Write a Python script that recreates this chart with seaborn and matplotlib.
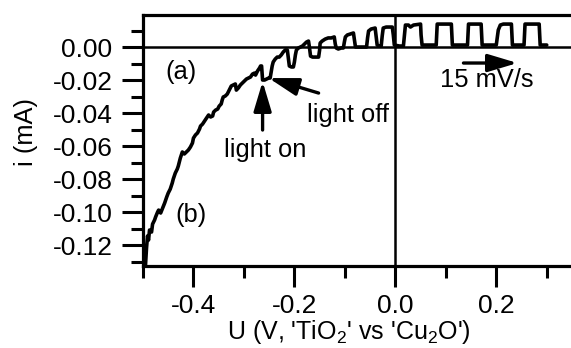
import matplotlib
matplotlib.use("Agg")
import matplotlib.pyplot as plt
import numpy as np
import pandas as pd
import seaborn as sns
from matplotlib.ticker import FixedLocator, FixedFormatter

# ---- data ----
potential = [
    -0.495, -0.493, -0.491, -0.489, -0.487, -0.483, -0.481, -0.477, -0.475, -0.471,
    -0.469, -0.465, -0.461, -0.457, -0.453, -0.450, -0.446, -0.442, -0.440, -0.436,
    -0.432, -0.430, -0.426, -0.422, -0.418, -0.414, -0.410, -0.406, -0.402, -0.400,
    -0.396, -0.392, -0.388, -0.386, -0.382, -0.378, -0.374, -0.370, -0.366, -0.362,
    -0.360, -0.356, -0.352, -0.349, -0.345, -0.343, -0.341, -0.337, -0.333, -0.329,
    -0.325, -0.321, -0.317, -0.315, -0.311, -0.307, -0.303, -0.299, -0.295, -0.291,
    -0.287, -0.283, -0.279, -0.277, -0.273, -0.269, -0.267, -0.265, -0.263, -0.259,
    -0.255, -0.251, -0.248, -0.246, -0.244, -0.242, -0.238, -0.234, -0.230, -0.226,
    -0.222, -0.218, -0.214, -0.212, -0.210, -0.206, -0.202, -0.200, -0.198, -0.196,
    -0.192, -0.188, -0.184, -0.180, -0.176, -0.172, -0.170, -0.168, -0.164, -0.158,
    -0.152, -0.150, -0.149, -0.145, -0.139, -0.133, -0.127, -0.121, -0.119, -0.117,
    -0.113, -0.107, -0.103, -0.101, -0.099, -0.095, -0.089, -0.083, -0.081, -0.079,
    -0.073, -0.065, -0.057, -0.055, -0.053, -0.048, -0.040, -0.038, -0.036, -0.032,
    -0.028, -0.026, -0.024, -0.018, -0.010, -0.006, -0.004, -0.002, 0.008, 0.016,
    0.018, 0.020, 0.026, 0.030, 0.036, 0.050, 0.051, 0.053, 0.081, 0.083,
    0.111, 0.113, 0.143, 0.145, 0.170, 0.172, 0.200, 0.204, 0.208, 0.214,
    0.230, 0.232, 0.255, 0.257, 0.285, 0.287, 0.300,
]
current = [
    -0.1321, -0.1218, -0.1145, -0.1170, -0.1109, -0.1121, -0.1073, -0.1048, -0.1030, -0.1000,
    -0.0988, -0.1006, -0.0976, -0.0945, -0.0909, -0.0885, -0.0861, -0.0824, -0.0800, -0.0764,
    -0.0739, -0.0721, -0.0673, -0.0636, -0.0648, -0.0636, -0.0624, -0.0606, -0.0582, -0.0552,
    -0.0533, -0.0521, -0.0497, -0.0479, -0.0467, -0.0448, -0.0430, -0.0412, -0.0424, -0.0418,
    -0.0394, -0.0382, -0.0376, -0.0358, -0.0345, -0.0321, -0.0303, -0.0297, -0.0285, -0.0261,
    -0.0236, -0.0230, -0.0224, -0.0261, -0.0248, -0.0230, -0.0218, -0.0206, -0.0194, -0.0188,
    -0.0182, -0.0164, -0.0158, -0.0170, -0.0145, -0.0127, -0.0115, -0.0115, -0.0200, -0.0200,
    -0.0194, -0.0188, -0.0188, -0.0152, -0.0115, -0.0091, -0.0073, -0.0061, -0.0061, -0.0048,
    -0.0030, -0.0018, -0.0018, -0.0067, -0.0115, -0.0121, -0.0121, -0.0091, -0.0048, -0.0018,
    -0.0006, 0.0000, 0.0006, 0.0018, 0.0030, 0.0036, -0.0006, -0.0055, -0.0061, -0.0061,
    -0.0061, -0.0018, 0.0024, 0.0036, 0.0048, 0.0055, 0.0055, 0.0061, 0.0018, -0.0006,
    -0.0012, -0.0006, -0.0006, 0.0030, 0.0061, 0.0073, 0.0079, 0.0085, 0.0042, 0.0000,
    0.0000, 0.0000, 0.0000, 0.0055, 0.0097, 0.0109, 0.0115, 0.0061, 0.0012, 0.0006,
    0.0006, 0.0067, 0.0115, 0.0121, 0.0121, 0.0121, 0.0073, 0.0012, 0.0006, 0.0006,
    0.0073, 0.0133, 0.0133, 0.0121, 0.0133, 0.0139, 0.0073, 0.0012, 0.0012, 0.0139,
    0.0139, 0.0012, 0.0012, 0.0139, 0.0139, 0.0012, 0.0012, 0.0103, 0.0133, 0.0139,
    0.0139, 0.0012, 0.0012, 0.0139, 0.0139, 0.0012, 0.0012,
]

x_ticks = [-0.4, -0.2, 0.0, 0.2]
x_tick_labels = ["-0.4", "-0.2", "0.0", "0.2"]
x_minor = [-0.5, -0.3, -0.1, 0.1, 0.3]
y_ticks = [0.00, -0.02, -0.04, -0.06, -0.08, -0.10, -0.12]
y_tick_labels = ["0.00", "-0.02", "-0.04", "-0.06", "-0.08", "-0.10", "-0.12"]
y_minor = [0.01, -0.01, -0.03, -0.05, -0.07, -0.09, -0.11, -0.13]

# ---- style ----
sns.set_style("ticks")
plt.rcParams["font.family"] = ["Liberation Sans", "DejaVu Sans"]
plt.rcParams["mathtext.fontset"] = "custom"
plt.rcParams["mathtext.rm"] = "Liberation Sans"
plt.rcParams["mathtext.it"] = "Liberation Sans"
plt.rcParams["axes.unicode_minus"] = False
for k in ["text.color", "axes.labelcolor", "xtick.color", "ytick.color",
          "xtick.labelcolor", "ytick.labelcolor", "axes.edgecolor"]:
    plt.rcParams[k] = "black"

FS = 18.4
TFS = 19.0
fig = plt.figure(figsize=(5.71, 3.48), dpi=100)
ax = fig.add_axes([0.2504, 0.2356, 0.7513, 0.7213])

df = pd.DataFrame({"U": potential, "i": current})
sns.lineplot(data=df, x="U", y="i", sort=False, estimator=None,
             color="black", lw=2.6, ax=ax)

ax.axhline(0, color="black", lw=1.8, zorder=1)
ax.axvline(0, color="black", lw=1.8, zorder=1)

ax.set_xlim(-0.5, 0.35)
ax.set_ylim(-0.1327, 0.0194)

ax.xaxis.set_major_locator(FixedLocator(x_ticks))
ax.xaxis.set_major_formatter(FixedFormatter(x_tick_labels))
ax.xaxis.set_minor_locator(FixedLocator(x_minor))
ax.yaxis.set_major_locator(FixedLocator(y_ticks))
ax.yaxis.set_major_formatter(FixedFormatter(y_tick_labels))
ax.yaxis.set_minor_locator(FixedLocator(y_minor))

for s in ["left", "bottom", "top"]:
    ax.spines[s].set_linewidth(2.3)
    ax.spines[s].set_color("black")
ax.spines["right"].set_visible(False)

ax.tick_params(axis="both", which="major", direction="out", length=15,
               width=2.2, labelsize=TFS, color="black", labelcolor="black")
ax.tick_params(axis="x", which="major", pad=5)
ax.tick_params(axis="y", which="major", pad=7)
ax.tick_params(axis="both", which="minor", direction="out", length=8.5,
               width=2.2, color="black")
ax.tick_params(top=False, right=False, which="both")

ax.set_xlabel("U (V, 'TiO$_\\mathrm{2}$' vs 'Cu$_\\mathrm{2}$O')", fontsize=18.0)
ax.xaxis.set_label_coords(0.48, -0.290)
ax.xaxis.label.set_va("baseline")
ax.set_ylabel("i (mA)", fontsize=FS)
ax.yaxis.set_label_coords(-0.273, 0.534)
ax.yaxis.label.set_va("center")

ax.text(-0.455, -0.0152, "(a)", fontsize=FS, ha="left", va="center")
ax.text(-0.436, -0.1018, "(b)", fontsize=FS, ha="left", va="center")
ax.text(-0.257, -0.0624, "light on", fontsize=FS, ha="center", va="center")
ax.text(-0.093, -0.0412, "light off", fontsize=FS, ha="center", va="center")
ax.text(0.089, -0.0200, "15 mV/s", fontsize=FS, ha="left", va="center")

arrow_kw = dict(arrowstyle="-|>,head_length=0.9,head_width=0.27",
                color="black", lw=2.4, mutation_scale=20, shrinkA=0, shrinkB=0)
ax.annotate("", xy=(-0.263, -0.0209), xytext=(-0.263, -0.0503), arrowprops=arrow_kw)
ax.annotate("", xy=(-0.251, -0.0188), xytext=(-0.152, -0.0279), arrowprops=arrow_kw)
ax.annotate("", xy=(0.242, -0.0097), xytext=(0.135, -0.0097), arrowprops=arrow_kw)

fig.savefig("out.png", dpi=100)
